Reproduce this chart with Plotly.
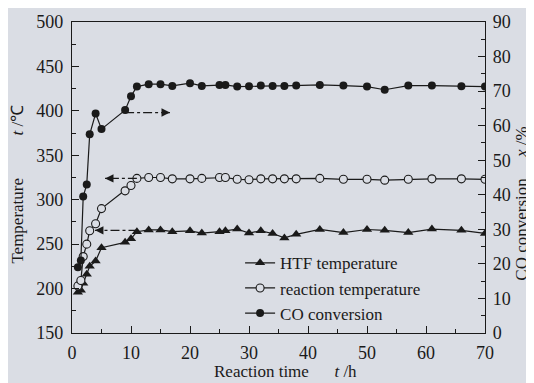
import plotly.graph_objects as go

# ---------------- data ----------------
time_h = [1.0, 1.5, 1.9, 2.5, 3.0, 4.0, 5.0, 9.0, 10.0, 11.0, 13, 15, 17, 20, 22,
          25, 26, 28, 30, 32, 34, 36, 38, 42, 46, 50, 53, 57, 61, 66, 70]

htf_temp = [196, 198, 206, 216, 225, 231, 246, 252, 256, 264, 266, 266, 264, 265, 262.5,
            264, 265, 267, 262.5, 265, 262, 257, 261, 266.5, 263, 266.5, 265.5, 263, 267, 265.5, 262]

reaction_temp = [203, 209, 236, 250, 265, 273, 290, 310, 316, 324, 325, 325, 323.5, 323.5, 324,
                 325, 325, 323, 322.5, 323.5, 323.5, 323.5, 323.5, 324, 323, 323, 322, 323, 323.5, 323.5, 323]

co_conversion = [19, 21, 39.5, 43, 57.5, 63.5, 59, 64.5, 68.5, 71.3, 72, 72, 71.5, 72.3, 71.5,
                 71.8, 71.8, 71.3, 71.4, 71.6, 71.5, 71.5, 71.6, 71.8, 71.6, 71.3, 70.4, 71.6, 71.6, 71.4, 71.3]

# arrows pointing to the relevant axis: (tail x, tip x, level)
arrow_co = (9.0, 16.6, 63.8)      # on CO axis (right)
arrow_rt = (11.0, 5.6, 324)       # on temperature axis (left)
arrow_htf = (11.1, 3.9, 265.5)    # on temperature axis (left)

x_ticks = [0, 10, 20, 30, 40, 50, 60, 70]
temp_ticks = [150, 200, 250, 300, 350, 400, 450, 500]
co_ticks = [0, 10, 20, 30, 40, 50, 60, 70, 80, 90]

# ---------------- styles ----------------
BG = "rgb(218,221,228)"
INK = "#1a1a1a"
FONT = "Liberation Serif, Times New Roman, serif"
SP = "&nbsp;"

fig = go.Figure()

fig.add_trace(go.Scatter(
    x=time_h, y=htf_temp, name="HTF temperature", mode="lines+markers",
    line=dict(color=INK, width=1.2),
    marker=dict(symbol="triangle-up", size=9, color=INK),
))
fig.add_trace(go.Scatter(
    x=time_h, y=reaction_temp, name="reaction temperature", mode="lines+markers",
    line=dict(color=INK, width=1.2),
    marker=dict(symbol="circle", size=8, color=BG, line=dict(color=INK, width=1.1)),
))
fig.add_trace(go.Scatter(
    x=time_h, y=co_conversion, name="CO conversion", mode="lines+markers", yaxis="y2",
    line=dict(color=INK, width=1.2),
    marker=dict(symbol="circle", size=8, color=INK),
))

# dash-dot arrow shafts
for (tail, tip, lvl), yax in [(arrow_co, "y2"), (arrow_rt, "y"), (arrow_htf, "y")]:
    fig.add_trace(go.Scatter(
        x=[tail, tip], y=[lvl, lvl], mode="lines", yaxis=yax, showlegend=False,
        hoverinfo="skip", line=dict(color=INK, width=1.3, dash="dashdot"),
    ))
    direction = 1 if tip > tail else -1
    fig.add_annotation(
        x=tip, y=lvl, ax=tip - direction * 1.6, ay=lvl,
        xref="x", yref=yax, axref="x", ayref=yax,
        showarrow=True, arrowhead=2, arrowsize=1.3, arrowwidth=1.3,
        arrowcolor=INK, text="",
    )

# axis titles
fig.add_annotation(text="Temperature" + SP * 10 + "<i>t</i> /℃", textangle=-90,
                   xref="paper", yref="paper", x=-0.131, y=0.48, showarrow=False,
                   xanchor="center", yanchor="middle", font=dict(family=FONT, size=17, color=INK))
fig.add_annotation(text="CO conversion" + SP * 5 + "<i>x</i> /%", textangle=-90,
                   xref="paper", yref="paper", x=1.088, y=0.417, showarrow=False,
                   xanchor="center", yanchor="middle", font=dict(family=FONT, size=17, color=INK))
fig.add_annotation(text="Reaction time" + SP * 6 + "<i>t</i> /h",
                   xref="paper", yref="paper", x=0.516, y=-0.124, showarrow=False,
                   xanchor="center", yanchor="middle", font=dict(family=FONT, size=17, color=INK))

axis_common = dict(showline=True, linecolor=INK, linewidth=1.2, ticks="inside", ticklen=7,
                   tickcolor=INK, tickwidth=1.2, showgrid=False, zeroline=False,
                   tickfont=dict(family=FONT, size=18, color=INK))

fig.update_layout(
    width=526, height=375,
    margin=dict(l=64, r=49, t=14, b=50, autoexpand=False),
    paper_bgcolor=BG, plot_bgcolor=BG,
    font=dict(family=FONT, size=17, color=INK),
    showlegend=True,
    legend=dict(x=0.407, y=0.282, xanchor="left", yanchor="top", bgcolor="rgba(0,0,0,0)",
                font=dict(family=FONT, size=17, color=INK), tracegroupgap=0),
    xaxis=dict(range=[0, 70], tickvals=x_ticks, mirror=True, ticklabelstandoff=3,
               minor=dict(ticks="inside", ticklen=4, dtick=5, tickcolor=INK, tickwidth=1.2),
               **axis_common),
    yaxis=dict(range=[150, 500], tickvals=temp_ticks, ticklabelstandoff=4,
               minor=dict(ticks="inside", ticklen=4, dtick=25, tickcolor=INK, tickwidth=1.2),
               **axis_common),
    yaxis2=dict(range=[0, 90], tickvals=co_ticks, overlaying="y", side="right", ticklabelstandoff=3,
                minor=dict(ticks="inside", ticklen=4, dtick=5, tickcolor=INK, tickwidth=1.2),
                **axis_common),
)

fig.write_html("out.html")
